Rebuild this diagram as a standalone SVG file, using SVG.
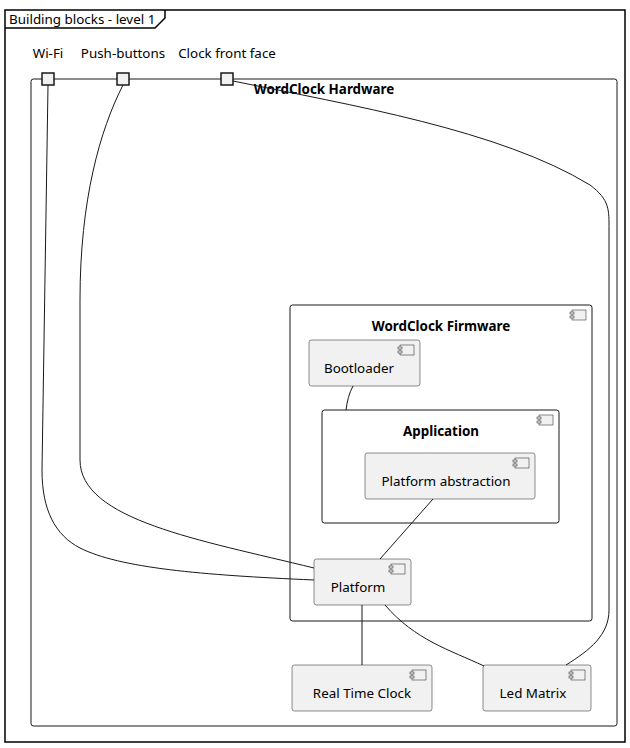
<svg xmlns="http://www.w3.org/2000/svg" width="630" height="748" viewBox="0 0 630 748">
<defs>
<style>
text{font-family:"Noto Sans","DejaVu Sans",sans-serif;font-size:13.4px;fill:#000}
.b{font-weight:bold}
.m{text-anchor:middle}
.cont{fill:#FFFFFF;stroke:#181818;stroke-width:1}
.comp{fill:#F1F1F1;stroke:#181818;stroke-width:0.5}
.port{fill:#F1F1F1;stroke:#181818;stroke-width:1.5}
.ln{fill:none;stroke:#181818;stroke-width:1}
</style>
<g id="icon">
<rect x="0" y="0" width="14" height="10" fill="#F1F1F1" stroke="#181818" stroke-width="0.5"/>
<rect x="-2" y="2" width="4" height="2" fill="#F1F1F1" stroke="#181818" stroke-width="0.5"/>
<rect x="-2" y="6" width="4" height="2" fill="#F1F1F1" stroke="#181818" stroke-width="0.5"/>
</g>
</defs>
<rect width="630" height="748" fill="#FFFFFF"/>
<g id="frame">
<rect x="5" y="10" width="620" height="732" fill="none" stroke="#000" stroke-width="1.5"/>
<path d="M5 28 L155 28 L165 18 L165 10" fill="none" stroke="#000" stroke-width="1.5"/>
<text x="9" y="24">Building blocks - level 1</text>
</g>
<g id="hardware">
<rect class="cont" x="31" y="79" width="586" height="647" rx="2.5"/>
<text class="b m" x="324" y="94">WordClock Hardware</text>
</g>
<g id="firmware">
<rect class="cont" x="290" y="305" width="302" height="316" rx="2.5"/>
<use href="#icon" x="572" y="310"/>
<text class="b m" x="441" y="331">WordClock Firmware</text>
</g>
<g id="bootloader">
<rect class="comp" x="309" y="340" width="111" height="46" rx="2.5"/>
<use href="#icon" x="400" y="345"/>
<text class="m" x="359" y="373">Bootloader</text>
</g>
<g id="application">
<rect class="cont" x="322" y="410" width="237" height="113" rx="2.5"/>
<use href="#icon" x="539" y="415"/>
<text class="b m" x="441" y="436">Application</text>
</g>
<g id="platform_abstraction">
<rect class="comp" x="365" y="453" width="170" height="46" rx="2.5"/>
<use href="#icon" x="515" y="458"/>
<text class="m" x="446" y="486">Platform abstraction</text>
</g>
<g id="platform">
<rect class="comp" x="314" y="559" width="97" height="46" rx="2.5"/>
<use href="#icon" x="391" y="564"/>
<text class="m" x="358" y="592">Platform</text>
</g>
<g id="rtc">
<rect class="comp" x="292" y="665" width="140" height="46" rx="2.5"/>
<use href="#icon" x="412" y="670"/>
<text class="m" x="362" y="698">Real Time Clock</text>
</g>
<g id="led_matrix">
<rect class="comp" x="483" y="665" width="108" height="46" rx="2.5"/>
<use href="#icon" x="571" y="670"/>
<text class="m" x="533" y="698">Led Matrix</text>
</g>
<g id="connectors">
<path class="ln" d="M353 386 C349 393 347 402 346 410"/>
<path class="ln" d="M433 499 L380 559"/>
<path class="ln" d="M362 605 L362 665"/>
<path class="ln" d="M385 605 C415 640 450 650 484 666"/>
<path class="ln" d="M48 85 L42 470 C42 510 55 535 80 548 C120 568 200 575 314 580"/>
<path class="ln" d="M123 85 C100 130 80 200 80 300 L80 460 C80 520 200 540 314 568"/>
<path class="ln" d="M233 81 C350 105 500 130 590 185 C610 200 609 210 609 230 L609 610 C609 635 590 650 566 665"/>
</g>
<g id="ports">
<rect class="port" x="42" y="73" width="12" height="12"/>
<rect class="port" x="117" y="73" width="12" height="12"/>
<rect class="port" x="221" y="73" width="12" height="12"/>
<text class="m" x="48" y="58">Wi-Fi</text>
<text class="m" x="123" y="58">Push-buttons</text>
<text class="m" x="227" y="58">Clock front face</text>
</g>
</svg>
